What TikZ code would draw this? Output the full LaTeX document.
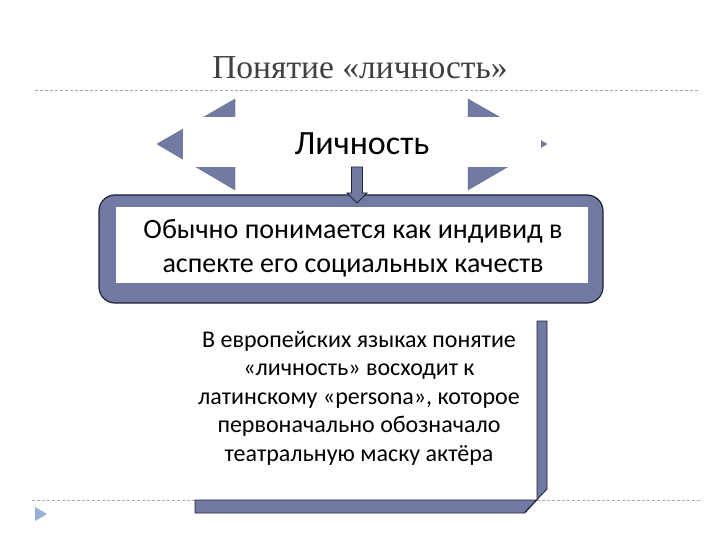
\documentclass[tikz,border=0pt]{standalone}
\usepackage{fontspec}
\setmainfont{Carlito}
\newfontfamily\titlefont{Liberation Serif}
\usetikzlibrary{calc}
\definecolor{slate}{RGB}{112,122,162}
\definecolor{slateline}{RGB}{30,34,52}
\definecolor{titlegray}{RGB}{64,64,64}
\definecolor{dashgray}{RGB}{170,170,170}
\definecolor{bulletblue}{RGB}{150,175,215}
\tikzset{
  sep/.style={draw=dashgray, line width=0.8pt, dash pattern=on 3pt off 2pt},
  tri/.style={fill=slate, draw=slate!80!black, line width=0.3pt},
  whitebox/.style={fill=white, draw=none, inner sep=0pt},
  slatebox/.style={fill=slate, draw=slateline, line width=1.2pt},
  blockarrow/.style={fill=slate, draw=slateline, line width=0.8pt},
  bodytext/.style={align=center, text=black, inner sep=0pt}
}
\begin{document}
\begin{tikzpicture}[x=1pt,y=-1pt]
\useasboundingbox (0,0) rectangle (720,540);
\fill[white] (0,0) rectangle (720,540);
% title
\node[text=titlegray, inner sep=0pt, font=\titlefont\fontsize{33.5}{38}\selectfont] (title) at (360,68) {Понятие «личность»};
% separator lines
\coordinate (s1a) at (35,90); \coordinate (s1b) at (700,90);
\draw[sep] (s1a) -- (s1b);
\coordinate (s2a) at (32,500); \coordinate (s2b) at (700,500);
\draw[sep] (s2a) -- (s2b);
% bullet
\fill[bulletblue] (35,507) -- (47,514) -- (35,521) -- cycle;
% left / right arrowheads
\filldraw[tri] (157,144) -- (235,99) -- (235,190) -- cycle;
\filldraw[tri] (468,99) -- (547,144) -- (468,190) -- cycle;
% white label box
\node[whitebox, minimum width=358, minimum height=50] (lichnost) at (362,142) {};
\node[bodytext, font=\fontsize{34}{40}\selectfont] (lichnosttext) at (362,144) {Личность};
% main rounded box
\draw[slatebox, rounded corners=16pt] (99,195) rectangle (603,303);
\node[whitebox, minimum width=472, minimum height=76] (main) at (352,245) {};
\node[bodytext, font=\fontsize{28}{34}\selectfont] (maintext) at (353,248) {Обычно понимается как индивид в\\аспекте его социальных качеств};
% down block arrow
\coordinate (a0) at (357,167);
\draw[blockarrow] ($(a0)+(-5.5,0)$) -- ++(0,26) -- ++(-4.5,0) -- (357,203) -- ($(a0)+(10,26)$) -- ++(-4.5,0) -- ($(a0)+(5.5,0)$) -- cycle;
% bevel box
\node[whitebox, minimum width=342, minimum height=179] (persona) at (366,410.5) {};
\filldraw[fill=slate, draw=slateline, line width=0.9pt] (195,500) -- (537,500) -- (537,321) -- (547,321) -- (547,489) -- (524,513) -- (195,513) -- cycle;
\draw[slateline, line width=0.6pt] (537,500) -- (525,513);
\node[bodytext, font=\fontsize{24}{28.5}\selectfont] (personatext) at (359,398) {В европейских языках понятие\\«личность» восходит к\\латинскому «persona», которое\\первоначально обозначало\\театральную маску актёра};
\end{tikzpicture}
\end{document}
